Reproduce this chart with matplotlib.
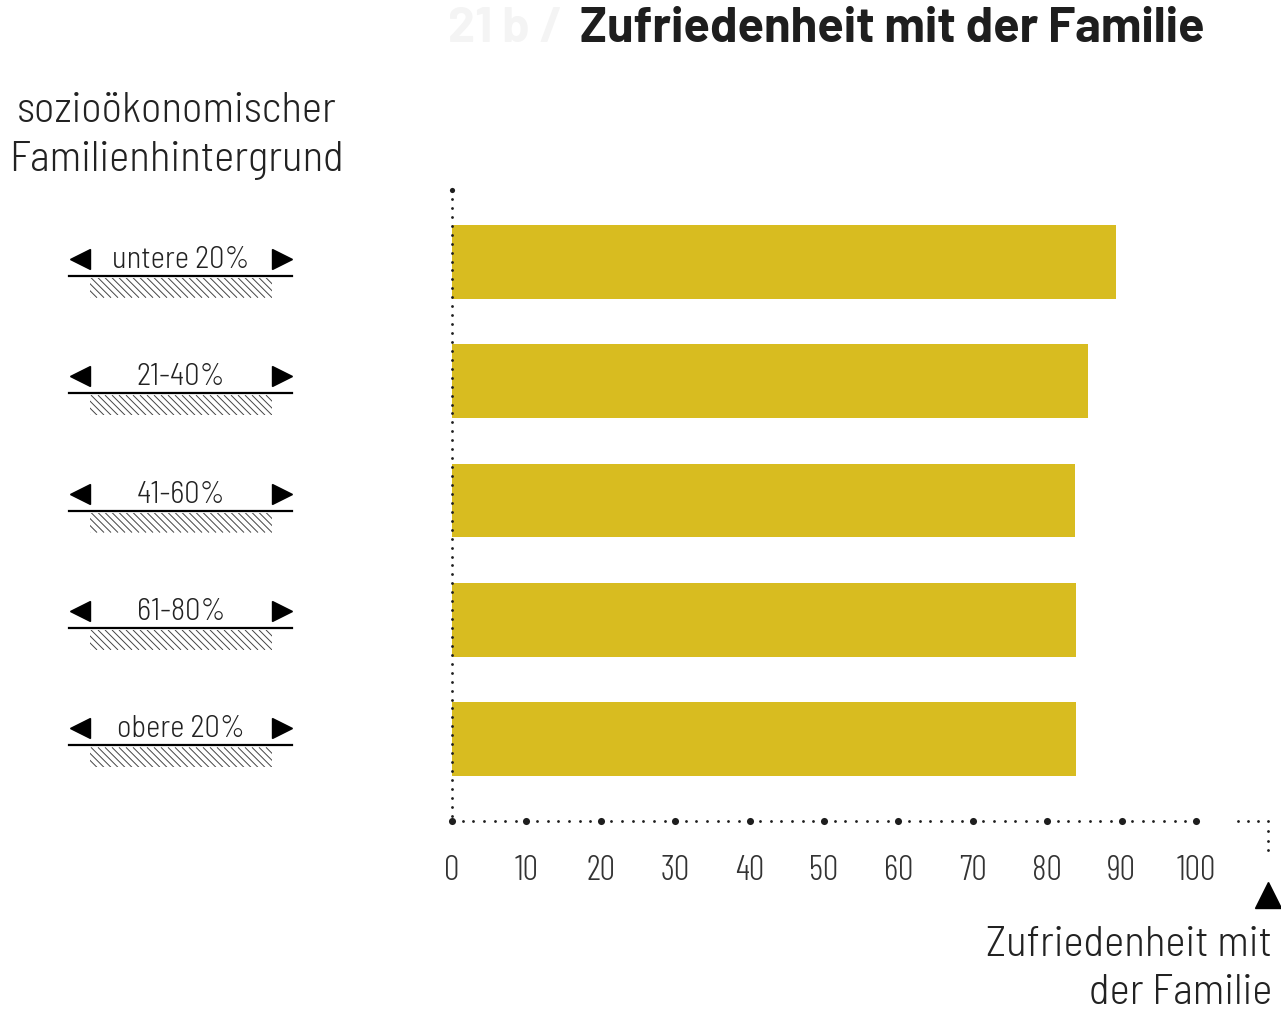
import matplotlib
matplotlib.use('Agg')
import matplotlib.pyplot as plt
import numpy as np
from matplotlib.collections import LineCollection
from matplotlib.patches import Rectangle

# ---- data ----
categories = ['untere 20%', '21-40%', '41-60%', '61-80%', 'obere 20%']
values = [89.2, 85.5, 83.7, 83.9, 83.9]
xticks = [0, 10, 20, 30, 40, 50, 60, 70, 80, 90, 100]
title = 'Zufriedenheit mit der Familie'
prefix = '21 b /'
left_header = 'sozioökonomischer\nFamilienhintergrund'
xlabel = 'Zufriedenheit mit\nder Familie'

W, H = 1281, 1013
LABEL_FONT = ['Barlow Semi Condensed', 'DejaVu Sans']
TICK_FONT = ['Barlow Condensed', 'DejaVu Sans']
TITLE_FONT = ['Barlow', 'DejaVu Sans']
BAR = '#d8bc20'
INK = '#1e1e1e'
TXT = '#222222'

fig = plt.figure(figsize=(W / 100, H / 100), dpi=100)
fig.patch.set_facecolor('white')

ax = fig.add_axes([452 / W, 1 - 821 / H, 744 / W, (821 - 190) / H])
ymin_data, ymax_data = -0.605, 4.689
ax.set_xlim(0, 100)
ax.set_ylim(ymax_data, ymin_data)
ax.axis('off')

y = np.arange(len(categories))
ax.barh(y, values, height=0.62, color=BAR, zorder=2)

# dotted axes
small_x = np.arange(0, 100.001, 10 / 7)
ax.scatter(small_x, np.full_like(small_x, ymax_data), s=4, color=INK, clip_on=False, zorder=3, linewidths=0)
ax.scatter(xticks, np.full(len(xticks), ymax_data), s=26, color=INK, clip_on=False, zorder=4, linewidths=0)
small_y = np.arange(ymin_data, ymax_data, 0.075)
ax.scatter(np.zeros_like(small_y), small_y, s=4, color=INK, clip_on=False, zorder=3, linewidths=0)
ax.scatter([0], [ymin_data], s=14, color=INK, clip_on=False, zorder=4, linewidths=0)

# extension beyond 100
ext_x = 109.7 - np.arange(4) * 1.344
ax.scatter(ext_x, np.full(4, ymax_data), s=4, color=INK, clip_on=False, linewidths=0)
ext_y = ymax_data + np.array([0.084, 0.168, 0.244])
ax.scatter(np.full(3, 109.7), ext_y, s=4, color=INK, clip_on=False, linewidths=0)
ax.plot([109.7], [ymax_data + 0.62], marker='^', ms=19, color='black', clip_on=False, lw=0)

# tick labels
for t in xticks:
    ax.text(t, ymax_data + 50 / 119, str(t), ha='center', va='center', fontsize=25,
            family=TICK_FONT, fontweight=300, color='#333333', clip_on=False)

# decoration axes in pixel coords
deco = fig.add_axes([0, 0, 1, 1], zorder=-1)
deco.set_xlim(0, W)
deco.set_ylim(0, H)
deco.axis('off')

for i, cat in enumerate(categories):
    ly_data = i * 0.985 - 0.02
    yc = ax.transData.transform((0, ly_data))[1]
    deco.text(181, yc, cat, ha='center', va='center', fontsize=22, family=LABEL_FONT,
              fontweight=300, color=TXT)
    deco.plot([80], [yc + 1], marker='<', ms=15, color='black', lw=0)
    deco.plot([282], [yc + 1], marker='>', ms=15, color='black', lw=0)
    deco.plot([69, 292], [yc - 16, yc - 16], color='black', lw=1.6)
    top, bot = yc - 18, yc - 38
    rect = Rectangle((90, bot), 182, top - bot, fill=False, lw=0, transform=deco.transData)
    deco.add_patch(rect)
    segs = [[(x0, top), (x0 + (top - bot), bot)] for x0 in np.arange(70, 272, 7)]
    lc = LineCollection(segs, colors='#444444', linewidths=0.7)
    deco.add_collection(lc)
    lc.set_clip_path(rect)

# texts
fig.text(1205 / W, 1 - 29 / H, title, ha='right', va='center', fontsize=35,
         fontweight='bold', family=TITLE_FONT, color=INK)
fig.text(448 / W, 1 - 29 / H, prefix, ha='left', va='center', fontsize=35,
         fontweight='bold', family=TITLE_FONT, color='#f4f4f4')
fig.text(177 / W, 1 - 136 / H, left_header, ha='center', va='center', fontsize=31,
         family=LABEL_FONT, fontweight=300, color=TXT, linespacing=1.32)
fig.text(1272 / W, 1 - 969 / H, xlabel, ha='right', va='center', fontsize=31,
         family=LABEL_FONT, fontweight=300, color=TXT, linespacing=1.3, multialignment='right')

fig.savefig('out.png', dpi=100, facecolor='white')
